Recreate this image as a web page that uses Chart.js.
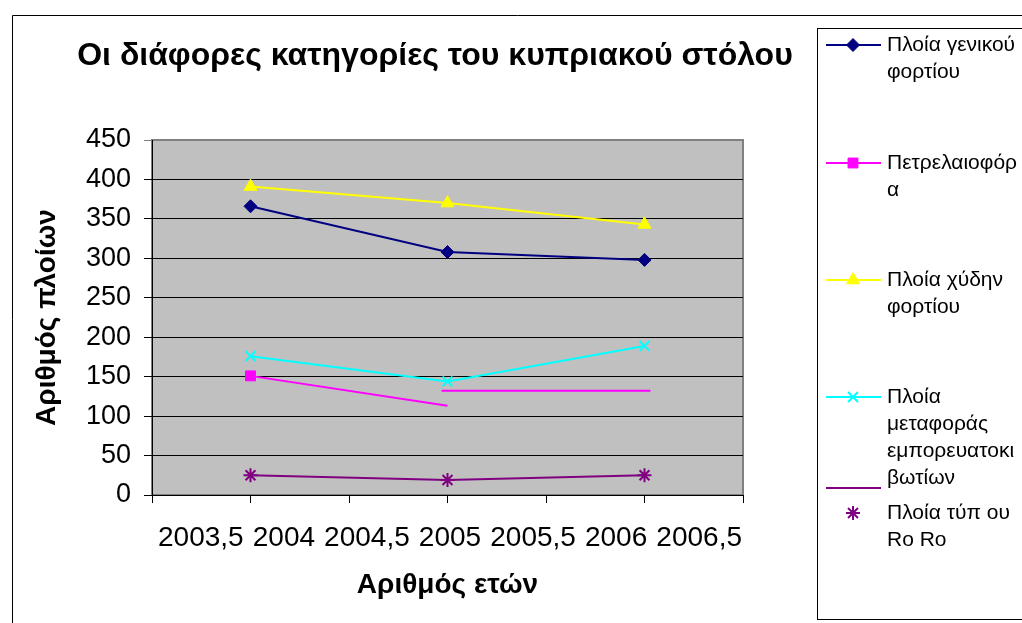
<!DOCTYPE html>
<html><head><meta charset="utf-8">
<script src="https://cdn.jsdelivr.net/npm/chart.js@4/dist/chart.umd.min.js"></script>
<style>html,body{margin:0;padding:0;background:#fff;overflow:hidden}#wrap{position:relative;width:1022px;height:623px}canvas{display:block}</style>
</head><body><div id="wrap"><canvas id="c" width="1022" height="623"></canvas></div>
<script>
// ---- data ----
const years = [2004, 2005, 2006];
const xTickValues = [2003.5, 2004, 2004.5, 2005, 2005.5, 2006, 2006.5];
const yMin = 0, yMax = 450, yStep = 50;
const generalCargo = [366, 308, 298];
const tankerYears = [2004, 2005];
const tankers = [151, 113];
const tankerLineYears = [2004.97, 2006.03];
const tankerLine = [132, 132];
const bulkCarriers = [391, 370, 343];
const containerShips = [176, 144, 189];
const roRo = [25, 19, 25];
const seriesNames = ["Πλοία γενικού φορτίου", "Πετρελαιοφόρα", "Πλοία χύδην φορτίου", "Πλοία μεταφοράς εμπορευατοκιβωτίων", "", "Πλοία τύπ ου Ro Ro"];
const legendLines = [["Πλοία γενικού", "φορτίου"], ["Πετρελαιοφόρ", "α"], ["Πλοία χύδην", "φορτίου"], ["Πλοία", "μεταφοράς", "εμπορευατοκι", "βωτίων"], [""], ["Πλοία τύπ ου", "Ro Ro"]];
const titleText = "Οι διάφορες κατηγορίες του κυπριακού στόλου";
const xTitleText = "Αριθμός ετών";
const yTitleText = "Αριθμός πλοίων";

const FONT = "'Liberation Sans', Arial, sans-serif";
const pts = (xs, ys) => xs.map((x, i) => ({x: x, y: ys[i]}));
const fmt = v => String(v).replace('.', ',');

const PLOT = {left: 152, right: 743, top: 140, bottom: 495};

const bgPlugin = {
  id: 'bg',
  beforeDraw(chart) {
    const {ctx, chartArea: a} = chart;
    ctx.save();
    ctx.strokeStyle = '#000'; ctx.lineWidth = 1;
    ctx.beginPath(); ctx.moveTo(12.5, 623); ctx.lineTo(12.5, 15.5); ctx.lineTo(1022, 15.5); ctx.stroke();
    ctx.fillStyle = '#C0C0C0';
    ctx.fillRect(a.left, a.top, a.right - a.left, a.bottom - a.top);
    ctx.strokeStyle = '#808080'; ctx.lineWidth = 2;
    ctx.strokeRect(a.left, a.top, a.right - a.left, a.bottom - a.top);
    ctx.restore();
  },
  afterDraw(chart) {
    const {ctx} = chart;
    ctx.save();
    ctx.fillStyle = '#000';
    ctx.font = 'bold 32px ' + FONT;
    ctx.textAlign = 'center'; ctx.textBaseline = 'middle';
    ctx.fillText(titleText, 435, 56);
    // x tick labels, packed like the reference
    const xs = chart.scales.x;
    const labels = xs.ticks.map(t => fmt(t.value));
    ctx.font = '28px ' + FONT;
    const widths = labels.map(l => ctx.measureText(l).width);
    const spanL = 158, spanR = 742;
    const total = widths.reduce((s, w) => s + w, 0);
    const gap = (spanR - spanL - total) / (labels.length - 1);
    let cx = spanL;
    ctx.textAlign = 'left';
    labels.forEach((l, i) => { ctx.fillText(l, cx, 538); cx += widths[i] + gap; });
    // legend
    ctx.strokeStyle = '#000'; ctx.lineWidth = 1;
    ctx.strokeRect(817.5, 28.5, 260, 591);
    const itemY = [45, 163, 280, 397, 488, 513];
    ctx.font = '21px ' + FONT;
    chart.data.datasets.forEach((ds) => {
      if (ds.legendIndex === undefined) return;
      const k = ds.legendIndex;
      const y = itemY[k];
      if (ds.showLine !== false) {
        ctx.strokeStyle = ds.borderColor; ctx.lineWidth = 2;
        ctx.beginPath(); ctx.moveTo(826, y); ctx.lineTo(881, y); ctx.stroke();
      }
      const r = Array.isArray(ds.pointRadius) ? ds.pointRadius[0] : ds.pointRadius;
      if (r > 0) {
        ctx.fillStyle = ds.pointBackgroundColor; ctx.strokeStyle = ds.pointBorderColor; ctx.lineWidth = ds.pointBorderWidth || 1;
        ctx.beginPath();
        Chart.helpers.drawPoint(ctx, {pointStyle: ds.pointStyle, radius: r, rotation: 0, borderWidth: ds.pointBorderWidth || 1}, 853, y);
      }
      ctx.fillStyle = '#000'; ctx.textAlign = 'left'; ctx.textBaseline = 'middle';
      legendLines[k].forEach((t, j) => ctx.fillText(t, 887, y + j * 27));
    });
    ctx.restore();
  }
};

function series(name, xs, ys, color, style, radius, legendIndex, extra) {
  return Object.assign({
    label: name, data: pts(xs, ys), showLine: true,
    borderColor: color, backgroundColor: color, borderWidth: 2,
    pointStyle: style, pointRadius: radius, pointHoverRadius: radius,
    pointBackgroundColor: color, pointBorderColor: color, pointBorderWidth: 1,
    legendIndex: legendIndex, tension: 0
  }, extra || {});
}

const datasets = [
  series(seriesNames[0], years, generalCargo, '#000080', 'rectRot', 6.5, 0),
  series(seriesNames[1], tankerYears, tankers, '#FF00FF', 'rect', [7, 0], 1),
  series('', tankerLineYears, tankerLine, '#FF00FF', 'circle', 0, undefined),
  series(seriesNames[2], years, bulkCarriers, '#FFFF00', 'triangle', 7.5, 2),
  series(seriesNames[3], years, containerShips, '#00FFFF', 'crossRot', 7, 3, {pointBorderWidth: 2}),
  series(seriesNames[4], years, roRo, '#800080', 'circle', 0, 4),
  series(seriesNames[5], years, roRo, '#800080', 'star', 7, 5, {showLine: false, pointBorderWidth: 2})
];

new Chart(document.getElementById('c'), {
  type: 'scatter',
  data: {datasets: datasets},
  options: {
    responsive: false, animation: false,
    layout: {padding: {top: PLOT.top, right: 1022 - PLOT.right, bottom: 0, left: 0}},
    plugins: {legend: {display: false}, tooltip: {enabled: false}, title: {display: false}},
    scales: {
      x: {
        type: 'linear', min: xTickValues[0], max: xTickValues[xTickValues.length - 1],
        afterBuildTicks: s => { s.ticks = xTickValues.map(v => ({value: v})); },
        afterFit: s => { s.height = 623 - PLOT.bottom; },
        ticks: {display: false},
        grid: {drawOnChartArea: false, drawTicks: true, tickLength: 8, color: '#000', lineWidth: 1},
        border: {display: true, color: '#000', width: 1},
        title: {display: true, text: xTitleText, color: '#000', font: {family: FONT, size: 28, weight: 'bold'}, padding: {top: 0, bottom: 21}}
      },
      y: {
        min: yMin, max: yMax,
        afterBuildTicks: s => { const t = []; for (let v = yMin; v <= yMax; v += yStep) t.push({value: v}); s.ticks = t; },
        afterFit: s => { s.width = PLOT.left; },
        ticks: {color: '#000', font: {family: FONT, size: 27}, padding: 13, callback: v => fmt(v)},
        grid: {color: c => (c.tick && c.tick.value === yMax) ? '#808080' : '#000', lineWidth: 1, tickLength: 8, drawTicks: true},
        border: {display: true, color: '#000', width: 1},
        title: {display: true, text: yTitleText, color: '#000', font: {family: FONT, size: 28, weight: 'bold'}, padding: {top: 30, bottom: 0}}
      }
    }
  },
  plugins: [bgPlugin]
});
</script></body></html>
